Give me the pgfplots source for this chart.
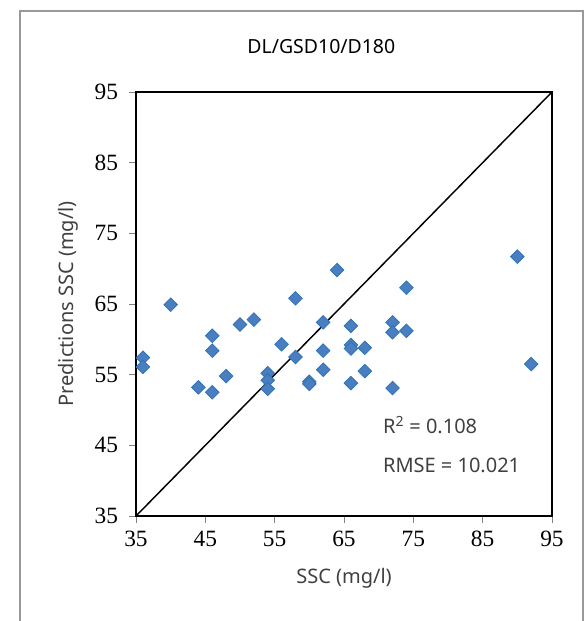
\documentclass[border=0pt]{standalone}
\usepackage{fontspec}
\setmainfont{Noto Sans}
\newfontfamily\tnr{Liberation Serif}
\usepackage{pgfplots}
\pgfplotsset{compat=1.18}
\definecolor{ptfill}{HTML}{4A7EC0}
\definecolor{ptedge}{HTML}{2E75B6}
\newcommand\tlab{\tnr\fontsize{17.5}{19}\selectfont}
\begin{document}
\begin{tikzpicture}
% page = 586x621 px at 0.75pt/px, plot box lower left at (0,0)
\useasboundingbox (-102pt,-78.75pt) rectangle (337.5pt,387pt);
\draw[gray!80, line width=1pt] (-87pt,-90pt) -- (-87pt,378.75pt) -- (335.25pt,378.75pt) -- (335.25pt,-90pt);
\begin{axis}[
  at={(0,0)}, anchor=south west,
  scale only axis,
  width=312pt, height=318pt,
  xmin=35, xmax=95, ymin=35, ymax=95,
  xtick={35,45,55,65,75,85,95}, ytick={35,45,55,65,75,85,95},
  xticklabel={\tlab\pgfmathprintnumber[assume math mode=true]{\tick}},
  yticklabel={\tlab\pgfmathprintnumber[assume math mode=true]{\tick}},
  axis line style={black, line width=1.1pt},
  tick align=outside,
  major tick length=5pt,
  tick style={gray, line width=0.6pt},
  xtick pos=bottom, ytick pos=left,
  xticklabel style={yshift=-3pt},
  yticklabel style={xshift=-5pt},
  xlabel={SSC (mg/l)},
  ylabel={Predictions SSC (mg/l)},
  label style={font=\fontsize{15}{17}\selectfont, color=black!75},
  xlabel style={yshift=-9pt},
  ylabel style={yshift=5pt},
  title={DL/GSD10/D180},
  title style={font=\fontsize{14.6}{16}\selectfont, yshift=19pt, xshift=-17pt},
  clip=false,
]
\addplot[black, line width=1.1pt] coordinates {(35,35) (95,95)};
\addplot[only marks, mark=square*, mark size=3.6pt,
  mark options={rotate=45, fill=ptfill, draw=ptedge, line width=0.6pt}]
  coordinates {
  (36,57.4) (36,56.1) (40,64.9) (44,53.2) (46,60.5) (46,58.4) (46,52.5)
  (48,54.8) (50,62.1) (52,62.8) (54,55.2) (54,54.2) (54,53.0) (56,59.3)
  (58,65.8) (58,57.5) (60,54.0) (60,53.7) (62,62.4) (62,58.4) (62,55.7)
  (64,69.8) (66,61.9) (66,59.2) (66,58.7) (66,53.8) (68,58.8) (68,55.5)
  (72,62.4) (72,61.0) (72,53.1) (74,67.3) (74,61.2) (90,71.7) (92,56.5)
  };
\node[anchor=west, font=\fontsize{15}{17}\selectfont, text=black!75, inner sep=0pt]
  at (axis cs:70.6,47.9) {R\textsuperscript{2} = 0.108};
\node[anchor=west, font=\fontsize{15}{17}\selectfont, text=black!75, inner sep=0pt]
  at (axis cs:70.6,42.2) {RMSE = 10.021};
\end{axis}
\end{tikzpicture}
\end{document}
